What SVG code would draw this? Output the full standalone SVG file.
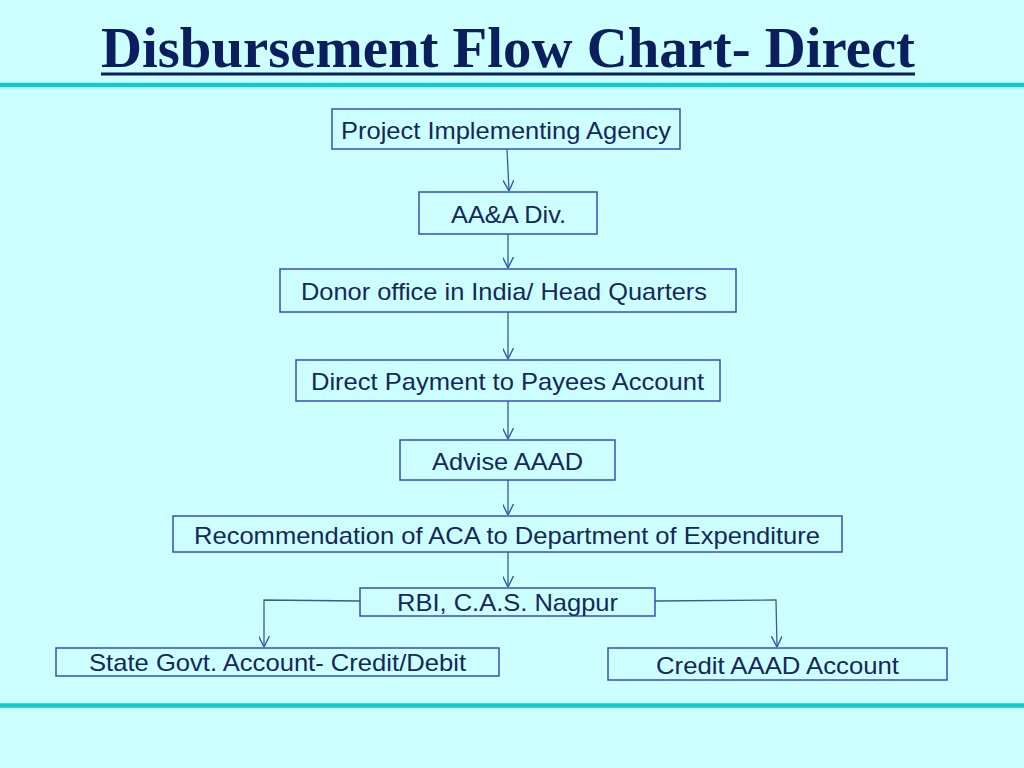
<svg xmlns="http://www.w3.org/2000/svg" width="1024" height="768" viewBox="0 0 1024 768">
<defs>
<style>
.bg{fill:#ccffff}
.rule{stroke:#11cccc;stroke-width:4.5}
.title{font-family:"Liberation Serif",serif;font-weight:bold;font-size:56px;fill:#0b1f5e}
.box{fill:none;stroke:#3a4cc0;stroke-width:1.5}
.lbl{font-family:"Liberation Sans",Arial,sans-serif;font-size:24px;fill:#14285a}
.con{fill:none;stroke:#2f5f9f;stroke-width:1.3;marker-end:url(#arr)}
</style>
<marker id="arr" viewBox="0 0 10 10" refX="10" refY="5" markerWidth="11" markerHeight="11" markerUnits="userSpaceOnUse" orient="auto">
<path d="M0,0 L10,5 L0,10" fill="none" stroke="#2f5f9f" stroke-width="1.3"/>
</marker>
</defs>
<rect class="bg" x="0" y="0" width="1024" height="768"/>
<g id="title">
<text class="title" x="101" y="67" textLength="814" lengthAdjust="spacingAndGlyphs">Disbursement Flow Chart- Direct</text>
<line x1="101" y1="74" x2="915" y2="74" stroke="#0b1f5e" stroke-width="3"/>
</g>
<line class="rule" x1="0" y1="85" x2="1024" y2="85"/>
<line class="rule" x1="0" y1="705.5" x2="1024" y2="705.5"/>
<g id="connectors">
<path class="con" d="M507,149 L509,191"/>
<path class="con" d="M508,234 L508,268"/>
<path class="con" d="M508,312 L508,359"/>
<path class="con" d="M508,401 L508,439"/>
<path class="con" d="M508,480 L508,515"/>
<path class="con" d="M508,552 L508,587"/>
<path class="con" d="M360,601 L264,600 L264,647"/>
<path class="con" d="M655,601 L776,600 L777,647"/>
</g>
<g id="n1"><rect class="box" x="332" y="109" width="348" height="40"/><text class="lbl" x="341" y="139" textLength="330" lengthAdjust="spacingAndGlyphs">Project Implementing Agency</text></g>
<g id="n2"><rect class="box" x="419" y="192" width="178" height="42"/><text class="lbl" x="451" y="223" textLength="115" lengthAdjust="spacingAndGlyphs">AA&amp;A Div.</text></g>
<g id="n3"><rect class="box" x="280" y="269" width="456" height="43"/><text class="lbl" x="301" y="300" textLength="406" lengthAdjust="spacingAndGlyphs">Donor office in India/ Head Quarters</text></g>
<g id="n4"><rect class="box" x="296" y="360" width="424" height="41"/><text class="lbl" x="311" y="390" textLength="393" lengthAdjust="spacingAndGlyphs">Direct Payment to Payees Account</text></g>
<g id="n5"><rect class="box" x="400" y="440" width="215" height="40"/><text class="lbl" x="432" y="470" textLength="151" lengthAdjust="spacingAndGlyphs">Advise AAAD</text></g>
<g id="n6"><rect class="box" x="173" y="516" width="669" height="36"/><text class="lbl" x="194" y="544" textLength="626" lengthAdjust="spacingAndGlyphs">Recommendation of ACA to Department of Expenditure</text></g>
<g id="n7"><rect class="box" x="360" y="588" width="295" height="28"/><text class="lbl" x="397" y="611" textLength="221" lengthAdjust="spacingAndGlyphs">RBI, C.A.S. Nagpur</text></g>
<g id="n8"><rect class="box" x="56" y="648" width="443" height="28"/><text class="lbl" x="89" y="671" textLength="377" lengthAdjust="spacingAndGlyphs">State Govt. Account- Credit/Debit</text></g>
<g id="n9"><rect class="box" x="608" y="648" width="339" height="32"/><text class="lbl" x="656" y="674" textLength="243" lengthAdjust="spacingAndGlyphs">Credit AAAD Account</text></g>
</svg>
